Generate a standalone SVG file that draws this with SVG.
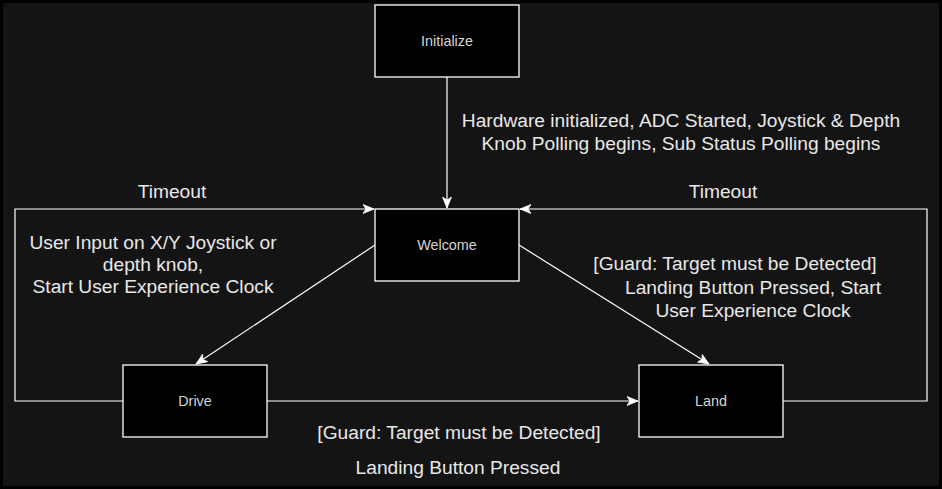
<svg xmlns="http://www.w3.org/2000/svg" width="942" height="489" viewBox="0 0 942 489">
  <style>
    .node rect { fill: #000000; stroke: #ffffff; stroke-width: 1.3; }
    .node text { font-family: "Liberation Sans", Arial, sans-serif; font-size: 14.4px; fill: #d4d4d4; text-anchor: middle; }
    .edge { fill: none; stroke: #ffffff; stroke-width: 1.2; }
    .lbl { font-family: "Liberation Sans", Arial, sans-serif; font-size: 19.2px; fill: #e8e8e8; text-anchor: middle; }
  </style>
  <defs>
    <marker id="arrow" markerUnits="userSpaceOnUse" markerWidth="12" markerHeight="10" viewBox="0 -5 12 10" refX="11" refY="0" orient="auto">
      <path d="M0,-4.5 L11,0 L0,4.5 L3,0 Z" fill="#ffffff" stroke="#ffffff" stroke-width="0.8"/>
    </marker>
  </defs>
  <rect x="0" y="0" width="942" height="489" fill="#000000"/>
  <rect x="3" y="3" width="936" height="483" fill="#141414"/>

  <g id="connectors">
    <path class="edge" d="M447,77 L447,208" marker-end="url(#arrow)"/>
    <path class="edge" d="M123,401 L15,401 L15,209 L374,209" marker-end="url(#arrow)"/>
    <path class="edge" d="M783,401 L927,401 L927,209 L520,209" marker-end="url(#arrow)"/>
    <path class="edge" d="M375,245 L196,364" marker-end="url(#arrow)"/>
    <path class="edge" d="M519,245 L709,364" marker-end="url(#arrow)"/>
    <path class="edge" d="M267,401 L638,401" marker-end="url(#arrow)"/>
  </g>

  <g id="edge-labels">
    <text class="lbl" x="681" y="127">Hardware initialized, ADC Started, Joystick &amp; Depth</text>
    <text class="lbl" x="681" y="150">Knob Polling begins, Sub Status Polling begins</text>
    <text class="lbl" x="172" y="198">Timeout</text>
    <text class="lbl" x="723" y="198">Timeout</text>
    <text class="lbl" x="153" y="249">User Input on X/Y Joystick or</text>
    <text class="lbl" x="153" y="271">depth knob,</text>
    <text class="lbl" x="153" y="293">Start User Experience Clock</text>
    <text class="lbl" x="735" y="270">[Guard: Target must be Detected]</text>
    <text class="lbl" x="753" y="294">Landing Button Pressed, Start</text>
    <text class="lbl" x="753" y="317">User Experience Clock</text>
    <text class="lbl" x="459" y="439">[Guard: Target must be Detected]</text>
    <text class="lbl" x="458" y="474">Landing Button Pressed</text>
  </g>

  <g id="node-initialize" class="node">
    <rect x="375" y="5" width="144" height="72"/>
    <text x="447" y="46">Initialize</text>
  </g>
  <g id="node-welcome" class="node">
    <rect x="375" y="209" width="144" height="72"/>
    <text x="447" y="250">Welcome</text>
  </g>
  <g id="node-drive" class="node">
    <rect x="123" y="365" width="144" height="72"/>
    <text x="195" y="406">Drive</text>
  </g>
  <g id="node-land" class="node">
    <rect x="639" y="365" width="144" height="72"/>
    <text x="711" y="406">Land</text>
  </g>
</svg>
